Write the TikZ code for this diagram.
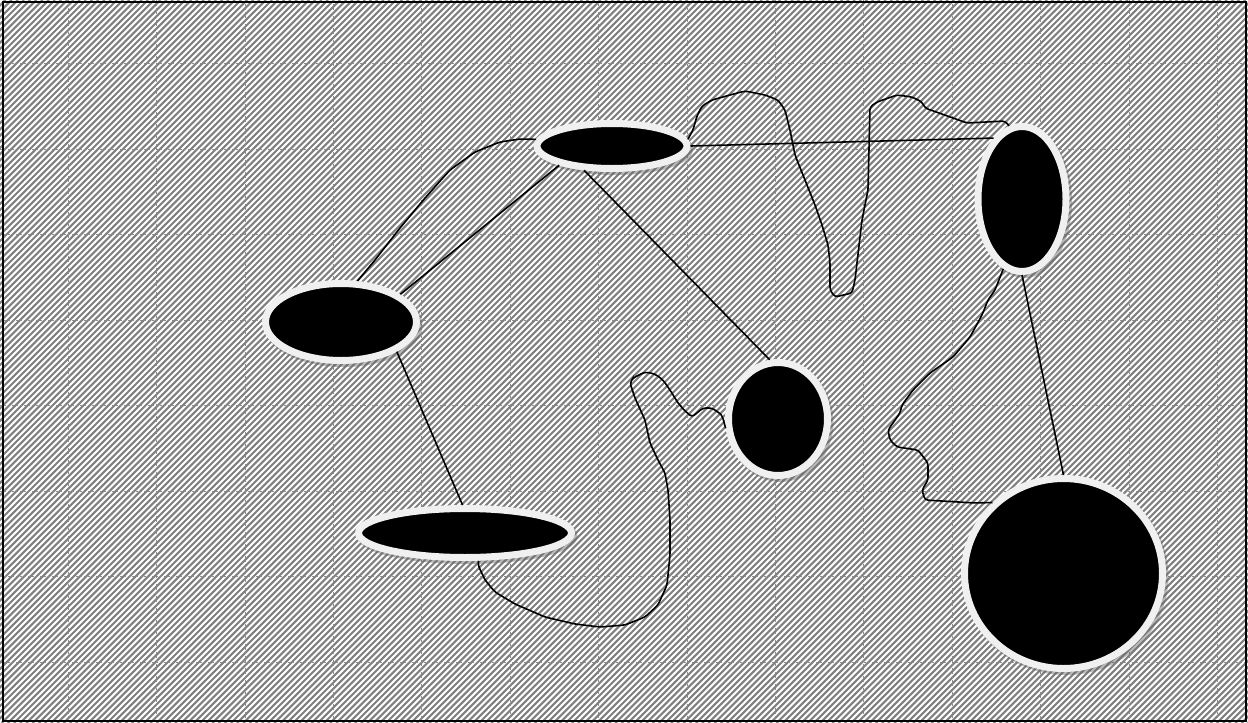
\documentclass[tikz,border=0pt]{standalone}
\usetikzlibrary{shapes.geometric,shadows}
\begin{document}
\begin{tikzpicture}[x=1pt,y=-1pt,
    blob/.style={ellipse,inner sep=0pt,fill=black,draw=white!94!black,line width=7pt,
      drop shadow={shadow xshift=2.5pt,shadow yshift=-3pt,opacity=.45,fill=black!60,draw=black!60,line width=7pt}},
    wire/.style={line width=1.6pt,rounded corners=3pt},
    hatch/.style={black!50,line width=2.1pt},
    gridline/.style={black!45,line width=0.4pt,dash pattern=on 2pt off 2pt}]
    \useasboundingbox (0,0) rectangle (1248,723);
    \fill[white] (0,0) rectangle (1248,723);
    \begin{scope}
      \clip (0,0) rectangle (1248,723);
      \foreach \hx in {-730,-723.8,...,1252}{
        \draw[hatch] (\hx,723) -- ++(723,-723);
      }
    \end{scope}
    \foreach \gx in {68,156.4,...,1220}{
      \draw[gridline] (\gx,0) -- (\gx,723);
    }
    \foreach \gy in {63.5,149,...,700}{
      \draw[gridline] (0,\gy) -- (1248,\gy);
    }
    \draw[line width=2pt] (3,2) rectangle (1246,721);
    % ovals
    \node[blob,minimum width=150pt,minimum height=45pt] (topOval) at (612,146) {};
    \node[blob,minimum width=151pt,minimum height=77pt] (leftOval) at (341,322) {};
    \node[blob,minimum width=213pt,minimum height=49pt] (lowOval) at (465,533) {};
    \node[blob,minimum width=99pt,minimum height=113pt] (midOval) at (778,419) {};
    \node[blob,minimum width=88pt,minimum height=145pt] (rightOval) at (1022,199) {};
    \node[blob,minimum width=198pt,minimum height=190pt] (bigOval) at (1063.5,573.5) {};
    % straight links
    \draw[wire] (topOval.east) -- (rightOval.115);
    \draw[wire] (topOval.200) -- (leftOval.25);
    \draw[wire] (topOval.221) -- (midOval.98);
    \draw[wire] (leftOval.332) -- (lowOval.95);
    \draw[wire] (rightOval.south) -- (bigOval.north);
    % wiggly links
    \draw[wire] (leftOval.68) -- (375,260) -- (400,228) -- (425,198) -- (450,170) -- (475,152)
      -- (500,142) -- (520,139) -- (topOval.175);
    \draw[wire] (topOval.5) -- (693,130) -- (697,116) -- (702,106) -- (712,100) -- (730,95)
      -- (745,91) -- (765,95) -- (778,100) -- (785,110) -- (790,130) -- (795,155) -- (805,180)
      -- (815,205) -- (822,225) -- (828,245) -- (830,262) -- (830,290) -- (835,297) -- (852,293)
      -- (855,280) -- (862,220) -- (868,190) -- (870,107) -- (877,102) -- (897,95) -- (912,97)
      -- (922,102) -- (925,108) -- (967,123) -- (1005,121) -- (rightOval.100);
    \draw[wire] (midOval.190) -- (722,415) -- (712,408) -- (703,408) -- (692,417) -- (684,410)
      -- (678,403) -- (670,390) -- (663,380) -- (655,374) -- (645,372) -- (633,378) -- (630,383)
      -- (635,398) -- (645,420) -- (650,443) -- (658,460) -- (665,473) -- (668,490) -- (670,520)
      -- (670,555) -- (667,585) -- (658,605) -- (645,617) -- (625,625) -- (600,627) -- (575,624)
      -- (545,617) -- (515,604) -- (495,592) -- (485,580) -- (478,565) -- (lowOval.296);
    \draw[wire] (rightOval.255) -- (995,290) -- (988,300) -- (982,315) -- (970,337) -- (953,357)
      -- (930,373) -- (913,390) -- (902,405) -- (900,413) -- (888,430) -- (890,440) -- (897,447)
      -- (918,450) -- (928,463) -- (928,480) -- (922,490) -- (925,500) -- (975,503) -- (bigOval.135);
\end{tikzpicture}
\end{document}
